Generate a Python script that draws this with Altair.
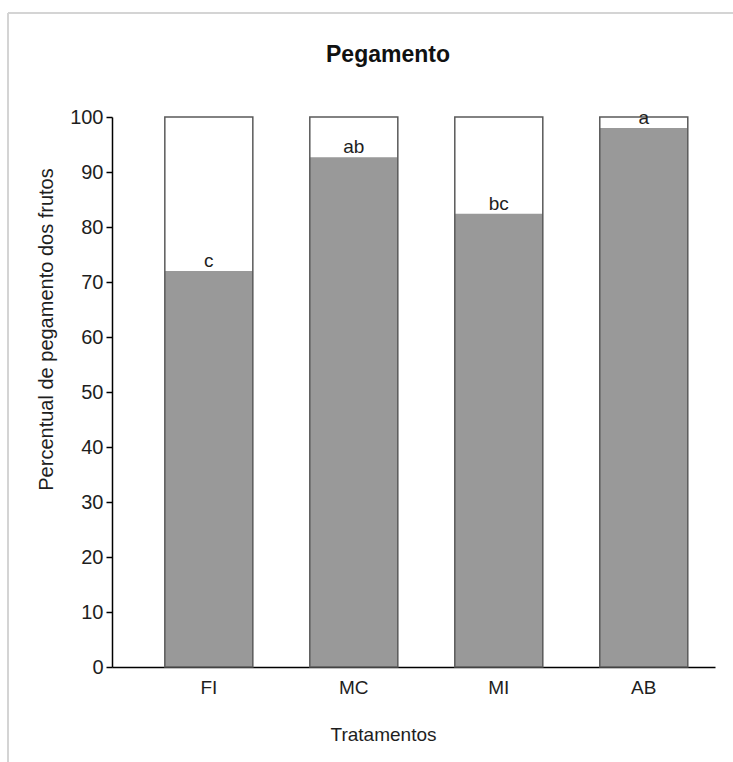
import altair as alt
import pandas as pd

# Fruit set (%) per treatment, with the significance letters
tratamentos = ["FI", "MC", "MI", "AB"]
pegamento = [72.0, 92.7, 82.4, 98.0]
letras = ["c", "ab", "bc", "a"]
total = [100, 100, 100, 100]

df = pd.DataFrame({
    "Tratamento": tratamentos,
    "Pegamento": pegamento,
    "Letra": letras,
    "Total": total,
})

FONT = "Liberation Sans"
TXT = "#1e1e1e"

x_enc = alt.X(
    "Tratamento:N",
    sort=tratamentos,
    scale=alt.Scale(paddingInner=0.393, paddingOuter=0.276, align=0.66),
    axis=alt.Axis(
        title="Tratamentos", labelAngle=0, ticks=False, domainColor="#000000",
        domainWidth=1.5, labelFontSize=19, labelFont=FONT, labelColor=TXT,
        labelPadding=11, titleFontSize=19, titleFont=FONT, titleFontWeight="normal",
        titleColor=TXT, titlePadding=28, titleX=271,
    ),
)
y_scale = alt.Scale(domain=[0, 100], nice=False)

base = alt.Chart(df)

fundo = base.mark_bar(color="white").encode(
    x=x_enc,
    y=alt.Y(
        "Total:Q", scale=y_scale,
        axis=alt.Axis(
            title="Percentual de pegamento dos frutos", values=list(range(0, 101, 10)),
            grid=False, domainColor="#000000", domainWidth=1.5, tickColor="#000000",
            tickWidth=1.5, tickSize=6, labelFontSize=20, labelFont=FONT,
            labelColor=TXT, labelPadding=3, titleFontSize=20, titleFont=FONT,
            titleFontWeight="normal", titleColor=TXT, titlePadding=13, titleY=212,
        ),
    ),
)

barras = base.mark_bar(color="#999999").encode(x=x_enc, y=alt.Y("Pegamento:Q", scale=y_scale))

contorno = base.mark_bar(fillOpacity=0, stroke="#5a5a5a", strokeWidth=1.5).encode(
    x=x_enc, y=alt.Y("Total:Q", scale=y_scale)
)

rotulos = base.mark_text(
    baseline="bottom", dy=0, fontSize=19, font=FONT, color=TXT
).encode(x=x_enc, y=alt.Y("Pegamento:Q", scale=y_scale), text="Letra:N")

titulo = alt.Chart(pd.DataFrame({"t": ["Pegamento"]})).mark_text(
    fontSize=23, font=FONT, fontWeight="bold", color="#111111", baseline="middle"
).encode(x=alt.value(276), y=alt.value(-62), text="t:N")

# light frame around the figure
moldura_v = alt.Chart(pd.DataFrame({"a": [0]})).mark_rule(color="#d4d4d4", strokeWidth=2).encode(
    x=alt.value(-104), y=alt.value(-104), y2=alt.value(650)
)
moldura_h = alt.Chart(pd.DataFrame({"a": [0]})).mark_rule(color="#d4d4d4", strokeWidth=2).encode(
    x=alt.value(-104), x2=alt.value(625), y=alt.value(-104)
)

chart = alt.layer(fundo, barras, contorno, rotulos, titulo, moldura_v, moldura_h).properties(
    width=603,
    height=550,
    autosize=alt.AutoSizeParams(type="none"),
    padding={"left": 112, "top": 117, "right": 18, "bottom": 95},
).configure_view(stroke=None)

chart.save("out.html", embed_options={"renderer": "svg", "actions": False})
